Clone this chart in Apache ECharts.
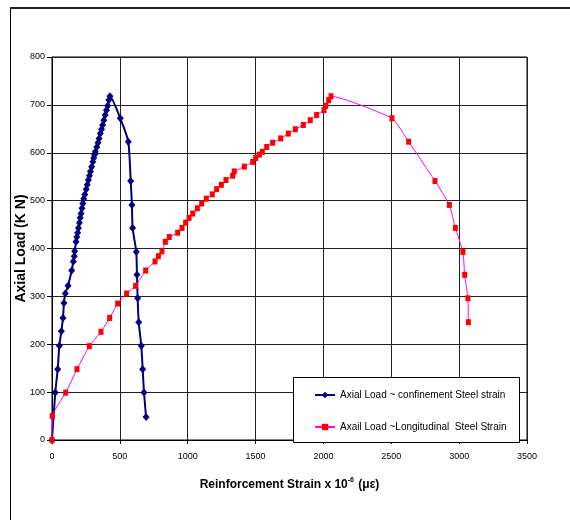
<!DOCTYPE html>
<html>
<head>
<meta charset="utf-8">
<script src="https://cdn.jsdelivr.net/npm/echarts@6/dist/echarts.min.js"></script>
<style>
  html, body { margin: 0; padding: 0; background: #fff; }
  #chart { width: 570px; height: 520px; }
</style>
</head>
<body>
<div id="chart"></div>
<script>
// Axial load (kN) against reinforcement strain (microstrain)
const seriesNames = [
  'Axial Load ~ confinement Steel strain',
  'Axail Load ~Longitudinal  Steel Strain'
];

// Confinement (hoop) steel
const confStrain = [0, 24, 42, 54, 69, 81, 88, 98, 118, 145, 157, 164, 167,
  177, 183, 189, 195, 202, 208, 214, 221, 227, 234,
  242, 252, 260, 268, 276, 283, 292, 301, 307, 314,
  319, 330, 339, 347, 356, 365, 373, 382, 392, 401,
  410, 419, 427,
  503, 562, 580, 589, 594, 621, 626, 631, 639, 658, 668, 678, 693];
const confLoad = [0, 99, 148, 197, 227, 255, 286, 306, 322, 354, 373, 384, 394,
  414, 424, 433, 443, 454, 464, 473, 484, 494, 504,
  513, 524, 533, 543, 552, 561, 571, 581, 589, 596,
  602, 612, 621, 630, 640, 649, 658, 668, 679, 689,
  698, 710, 718,
  672, 623, 541, 491, 443, 393, 345, 296, 246, 197, 148, 99, 48];

// Longitudinal steel
const longStrain = [0, 2, 101, 184, 275, 361, 425, 484, 550, 616,
  690, 759, 784, 810, 835, 864, 926, 958, 985, 1010,
  1037, 1071, 1103, 1137, 1181, 1213, 1248, 1282, 1331, 1343,
  1417, 1479, 1501, 1528, 1550, 1582, 1626, 1685, 1741, 1793,
  1852, 1903, 1950, 2004, 2017, 2039, 2056,
  2505, 2628, 2822, 2928, 2972, 3028, 3041, 3065, 3068];
const longLoad = [0, 50, 99, 148, 196, 226, 255, 285, 306, 322,
  354, 373, 384, 394, 414, 424, 433, 443, 454, 464,
  473, 484, 494, 504, 513, 524, 533, 543, 552, 561,
  571, 581, 589, 596, 602, 612, 621, 630, 640, 649,
  658, 668, 679, 689, 698, 710, 718,
  672, 623, 541, 491, 443, 393, 345, 296, 246];

// Axis ranges
const xRange = [0, 3500], xStep = 500;
const yRange = [0, 800], yStep = 100;

const pairs = (xs, ys) => xs.map((x, i) => [x, ys[i]]);
const plain = v => String(v);

const sans = '"Liberation Sans", Arial, sans-serif';

const chart = echarts.init(document.getElementById('chart'), null, { renderer: 'canvas' });

chart.setOption({
  animation: false,
  backgroundColor: '#fff',
  grid: {
    left: 52, top: 57, right: 43, bottom: 80,
    outerBoundsMode: 'none', containLabel: false,
    show: true, borderColor: '#000', borderWidth: 1
  },
  xAxis: {
    type: 'value', min: xRange[0], max: xRange[1], interval: xStep,
    name: '{b|Reinforcement Strain x 10}{s|-6}{b| (με)}',
    nameLocation: 'middle', nameGap: 37,
    nameTextStyle: {
      rich: {
        b: { fontFamily: sans, fontWeight: 'bold', fontSize: 12, color: '#000' },
        s: { fontFamily: sans, fontWeight: 'bold', fontSize: 7, color: '#000', verticalAlign: 'top', padding: [0, 1, 8, 0] }
      }
    },
    axisLine: { show: true, lineStyle: { color: '#000', width: 1 } },
    axisTick: { show: true, inside: false, length: 4, lineStyle: { color: '#000' } },
    axisLabel: { margin: 12, fontFamily: sans, fontSize: 9, color: '#000', formatter: plain },
    splitLine: { show: true, lineStyle: { color: '#222', width: 1 } }
  },
  yAxis: {
    type: 'value', min: yRange[0], max: yRange[1], interval: yStep,
    name: 'Axial Load (K N)',
    nameLocation: 'middle', nameGap: 24, nameMoveOverlap: false,
    nameTextStyle: { fontFamily: sans, fontWeight: 'bold', fontSize: 14, color: '#000' },
    axisLine: { show: true, lineStyle: { color: '#000', width: 1 } },
    axisTick: { show: true, inside: false, length: 5, lineStyle: { color: '#000' } },
    axisLabel: { margin: 7, fontFamily: sans, fontSize: 9, color: '#000', formatter: plain },
    splitLine: { show: true, lineStyle: { color: '#222', width: 1 } }
  },
  legend: {
    orient: 'vertical',
    left: 314, top: 390,
    itemWidth: 20, itemHeight: 8, itemGap: 22,
    padding: 0,
    z: 20,
    textStyle: { fontFamily: sans, fontSize: 10, color: '#000' },
    data: seriesNames
  },
  graphic: [
    // outer chart frame
    { type: 'line', shape: { x1: 10, y1: 8, x2: 570, y2: 8 }, style: { stroke: '#222', lineWidth: 2 }, z: 1 },
    { type: 'line', shape: { x1: 10.5, y1: 8, x2: 10.5, y2: 520 }, style: { stroke: '#000', lineWidth: 1 }, z: 1 },
    // legend box
    { type: 'rect', shape: { x: 293.5, y: 377.5, width: 226, height: 65 }, style: { fill: '#fff', stroke: '#000', lineWidth: 1 }, z: 15 }
  ],
  series: [
    {
      name: seriesNames[0],
      type: 'line',
      data: pairs(confStrain, confLoad),
      smooth: 0.2,
      symbol: 'diamond',
      symbolSize: [7, 8],
      showAllSymbol: true,
      lineStyle: { color: '#000080', width: 2 },
      itemStyle: { color: '#000080' },
      z: 3
    },
    {
      name: seriesNames[1],
      type: 'line',
      data: pairs(longStrain, longLoad),
      smooth: 0.15,
      symbol: 'rect',
      symbolSize: [5, 6],
      showAllSymbol: true,
      lineStyle: { color: '#ff00ff', width: 1 },
      itemStyle: { color: '#ff0000' },
      z: 4
    }
  ]
});
</script>
</body>
</html>
